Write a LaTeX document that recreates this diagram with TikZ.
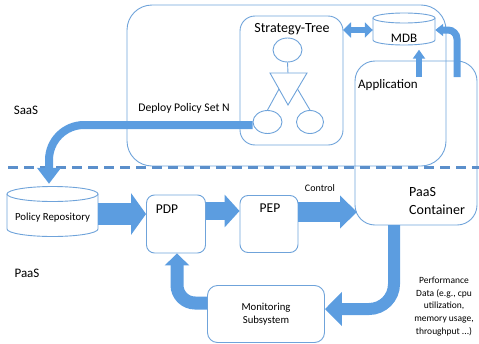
\documentclass[tikz,border=0pt]{standalone}
\usepackage{fontspec}
\setmainfont{Carlito}
\usetikzlibrary{arrows.meta,shapes.geometric,calc}
\definecolor{boxline}{HTML}{6FA3DA}
\definecolor{arrowblue}{HTML}{5C9DE0}
\definecolor{dashblue}{HTML}{5B8FCB}
\tikzset{
  outline/.style={draw=boxline, line width=0.9pt},
  rbox/.style={outline, rounded corners=#1},
  blockarrow/.style={draw=arrowblue, line cap=butt},
  lbl/.style={inner sep=0pt, text=black},
}
\begin{document}
\begin{tikzpicture}[x=1pt,y=-1pt]
\useasboundingbox (0,0) rectangle (479,343);

% boxes
\draw[rbox=25pt] (127,5) rectangle (446,166);
\draw[rbox=15pt] (240,16) rectangle (343,145);
\draw[rbox=20pt] (355,61) rectangle (477,225);
\node[rbox=8pt, minimum width=59pt, minimum height=58pt] (pdp) at (176,224) {};
\node[rbox=8pt, minimum width=58pt, minimum height=57pt] (pep) at (269,224) {};
\node[rbox=10pt, minimum width=117pt, minimum height=57pt] (mon) at (266,314) {};

% cylinders
\draw[outline, fill=white] (373,18) -- (373,40) arc[start angle=180, end angle=0, x radius=31, y radius=5] -- (435,18);
\draw[outline, fill=white] (404,18) ellipse[x radius=31, y radius=5];
\node[minimum width=62pt, minimum height=37pt, inner sep=0pt] (mdb) at (404,31) {};
\draw[outline, fill=white] (7,194) -- (7,229) arc[start angle=180, end angle=0, x radius=45.5, y radius=7.5] -- (98,194);
\draw[outline, fill=white] (52.5,194) ellipse[x radius=45.5, y radius=7.5];
\node[minimum width=91pt, minimum height=50pt, inner sep=0pt] (repo) at (52.5,212) {};

% strategy tree
\node[outline, ellipse, minimum width=29pt, minimum height=24pt, inner sep=0pt] (c1) at (287.5,50) {};
\coordinate (t1) at (270,73);
\coordinate (t2) at (307,73);
\coordinate (t3) at (288,105);
\draw[outline] (t1) -- (t2) -- (t3) -- cycle;
\draw[outline] (c1.south) -- (288,73);
\node[outline, ellipse, minimum width=29pt, minimum height=23pt, inner sep=0pt] (c2) at (267.5,122) {};
\node[outline, ellipse, minimum width=27pt, minimum height=23pt, inner sep=0pt] (c3) at (310,122) {};
\draw[outline] ($(t1)!0.5!(t3)$) -- (c2.north);
\draw[outline] ($(t2)!0.5!(t3)$) -- (c3.north);

% dashed separator
\draw[dashblue, line width=3pt, dash pattern=on 10pt off 6pt] (8,167) -- (479,167);

% arrows
\draw[blockarrow, line width=22pt, -{Triangle[length=15pt, width=41pt]}] (repo.east |- 0,214) -- (pdp.west |- 0,214);
\draw[blockarrow, line width=18pt, -{Triangle[length=15pt, width=32pt]}] (pdp.east |- 0,211) -- (pep.west |- 0,211);
\draw[blockarrow, line width=20pt, -{Triangle[length=17pt, width=32pt]}] (pep.east |- 0,212) -- (357,212);
\draw[blockarrow, line width=12pt, rounded corners=25pt, -{Triangle[length=17pt, width=33pt]}] (394,225) |- (mon.east |- 0,309);
\draw[blockarrow, line width=13pt, rounded corners=18pt, -{Triangle[length=12pt, width=24pt]}] (mon.west |- 0,303) -| (pdp.south -| 177,0);
\draw[blockarrow, line width=8pt, rounded corners=35pt, -{Triangle[length=16pt, width=23pt]}] (c2.west |- 0,125) -| ($(repo.north -| 49,0)+(0,-3)$);
\draw[blockarrow, line width=6pt, -{Triangle[length=9pt, width=12pt]}] (419,77) -- (mdb.south -| 419,0);
\draw[blockarrow, line width=7pt, rounded corners=9pt, -{Triangle[length=8pt, width=12pt]}] (457,77) |- (mdb.east |- 0,30);
\draw[blockarrow, line width=6pt, {Triangle[length=8pt, width=15pt]}-{Triangle[length=8pt, width=15pt]}] (343,30) -- (mdb.west |- 0,30);

% texts
\node[lbl, font=\fontsize{14}{16}\selectfont] (tst) at (292,29) {Strategy-Tree};
\node[lbl, font=\fontsize{13}{15}\selectfont] (tmdb) at (404,38) {MDB};
\node[lbl, font=\fontsize{13}{15}\selectfont, anchor=west] (tapp) at (358,85) {Application};
\node[lbl, font=\fontsize{11.7}{14}\selectfont] (tdep) at (184,108) {Deploy Policy Set N};
\node[lbl, font=\fontsize{13}{15}\selectfont] (tsaas) at (26,110) {SaaS};
\node[lbl, font=\fontsize{13}{15}\selectfont] (tpaas) at (27,273) {PaaS};
\node[lbl, font=\fontsize{10.8}{13}\selectfont] (trepo) at (52.5,218) {Policy Repository};
\node[lbl, font=\fontsize{13.5}{16}\selectfont] (tpdp) at (167,209) {PDP};
\node[lbl, font=\fontsize{13.5}{16}\selectfont] (tpep) at (270,208) {PEP};
\node[lbl, font=\fontsize{10}{12}\selectfont] (tctl) at (320,188) {Control};
\node[lbl, font=\fontsize{14}{18}\selectfont, align=left, anchor=west] (tcont) at (409,201) {PaaS\\Container};
\node[lbl, font=\fontsize{10.7}{12.5}\selectfont, align=center] (tmon) at (266,314) {Monitoring\\Subsystem};
\node[lbl, font=\fontsize{9.5}{12.7}\selectfont, align=center] (tperf) at (444,306.5) {Performance\\Data (e.g., cpu\\utilization,\\memory usage,\\throughput ...)};
\end{tikzpicture}
\end{document}
